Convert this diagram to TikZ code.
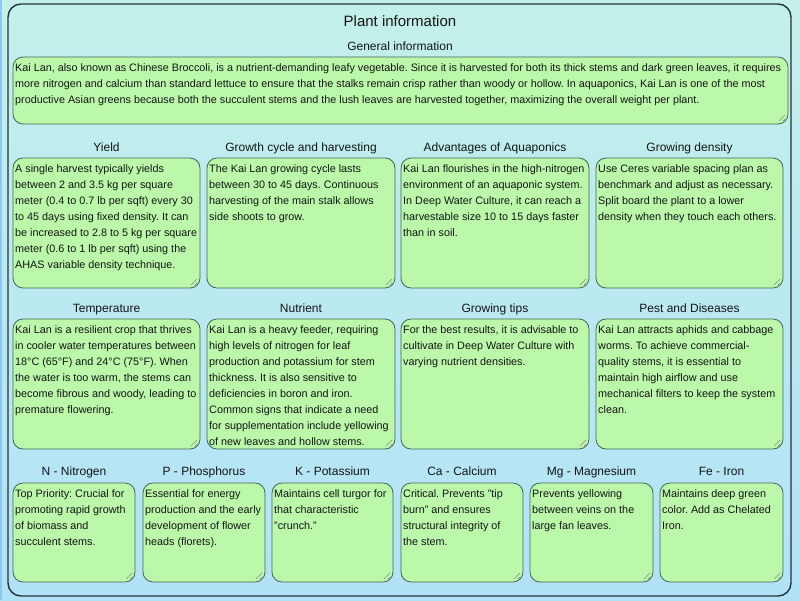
\documentclass[tikz,border=0pt]{standalone}
\usepackage{fontspec}
\setmainfont{Liberation Sans}
\frenchspacing
\definecolor{bgtop}{RGB}{196,240,234}
\definecolor{bgbot}{RGB}{178,226,248}
\definecolor{boxfill}{RGB}{187,248,170}
\definecolor{boxline}{RGB}{70,100,88}
\definecolor{framec}{RGB}{38,50,58}
\definecolor{txtc}{RGB}{20,20,20}
\definecolor{edgeblue}{RGB}{140,200,240}
\tikzset{
  ibx/.style={draw=boxline, fill=boxfill, line width=0.8pt, rounded corners=10pt, inner sep=0pt, outer sep=0pt},
  txt/.style={inner sep=0pt, align=left, text=txtc, font=\fontsize{10.8}{16}\selectfont\frenchspacing},
  hdr/.style={inner sep=0pt, anchor=base, text=txtc, font=\fontsize{12}{14}\selectfont},
  ttl/.style={inner sep=0pt, anchor=base, text=txtc, font=\fontsize{15}{18}\selectfont},
  grip/.style={draw=black!45, line width=0.5pt},
}
\newcommand{\ibox}[6]{%
  \node[ibx, anchor=north west, minimum width={(#4-#2)*1pt}, minimum height={(#5-#3)*1pt}] (#1) at (#2,#3) {};
  \node[txt, anchor=north west] (#1-t) at ([shift={(2,6)}]#1.north west) {#6};
  \draw[grip] ([shift={(-3,-9)}]#1.south east) -- ([shift={(-9,-3)}]#1.south east);
  \draw[grip] ([shift={(-3,-5)}]#1.south east) -- ([shift={(-5,-3)}]#1.south east);
}
\begin{document}
\begin{tikzpicture}[x=1pt,y=-1pt]
\useasboundingbox (0,0) rectangle (800,600);
\shade[top color=bgtop, bottom color=bgbot] (0,0) rectangle (800,600);
\draw[edgeblue, line width=2pt] (1,0) -- (1,600);
\draw[framec, line width=1.4pt, rounded corners=13pt] (8,4) rectangle (791,596);
\node[ttl] (title) at (400,26.5) {Plant information};
\node[hdr] (h-gen) at (400,50.5) {General information};
\ibox{gen}{13}{57}{788}{124}{Kai Lan, also known as Chinese Broccoli, is a nutrient-demanding leafy vegetable. Since it is harvested for both its thick stems and dark green leaves, it requires\\more nitrogen and calcium than standard lettuce to ensure that the stalks remain crisp rather than woody or hollow. In aquaponics, Kai Lan is one of the most\\productive Asian greens because both the succulent stems and the lush leaves are harvested together, maximizing the overall weight per plant.}
% row 1
\node[hdr] (h-yield) at (106.5,151.5) {Yield};
\node[hdr] (h-growth) at (301,151.5) {Growth cycle and harvesting};
\node[hdr] (h-adv) at (495,151.5) {Advantages of Aquaponics};
\node[hdr] (h-dens) at (689.5,151.5) {Growing density};
\ibox{yield}{13}{158}{200}{288}{A single harvest typically yields\\between 2 and 3.5 kg per square\\meter (0.4 to 0.7 lb per sqft) every 30\\to 45 days using fixed density. It can\\be increased to 2.8 to 5 kg per square\\meter (0.6 to 1 lb per sqft) using the\\AHAS variable density technique.}
\ibox{growth}{207}{158}{395}{288}{The Kai Lan growing cycle lasts\\between 30 to 45 days. Continuous\\harvesting of the main stalk allows\\side shoots to grow.}
\ibox{adv}{401}{158}{589}{288}{Kai Lan flourishes in the high-nitrogen\\environment of an aquaponic system.\\In Deep Water Culture, it can reach a\\harvestable size 10 to 15 days faster\\than in soil.}
\ibox{dens}{596}{158}{783}{288}{Use Ceres variable spacing plan as\\benchmark and adjust as necessary.\\Split board the plant to a lower\\density when they touch each others.}
% row 2
\node[hdr] (h-temp) at (106.5,312.5) {Temperature};
\node[hdr] (h-nut) at (301,312.5) {Nutrient};
\node[hdr] (h-tips) at (495,312.5) {Growing tips};
\node[hdr] (h-pest) at (689.5,312.5) {Pest and Diseases};
\ibox{temp}{13}{319}{200}{449}{Kai Lan is a resilient crop that thrives\\in cooler water temperatures between\\18°C (65°F) and 24°C (75°F). When\\the water is too warm, the stems can\\become fibrous and woody, leading to\\premature flowering.}
\ibox{nut}{207}{319}{395}{449}{Kai Lan is a heavy feeder, requiring\\high levels of nitrogen for leaf\\production and potassium for stem\\thickness. It is also sensitive to\\deficiencies in boron and iron.\\Common signs that indicate a need\\for supplementation include yellowing\\of new leaves and hollow stems.}
\ibox{tips}{401}{319}{589}{449}{For the best results, it is advisable to\\cultivate in Deep Water Culture with\\varying nutrient densities.}
\ibox{pest}{596}{319}{783}{449}{Kai Lan attracts aphids and cabbage\\worms. To achieve commercial-\\quality stems, it is essential to\\maintain high airflow and use\\mechanical filters to keep the system\\clean.}
% row 3
\node[hdr] (h-n) at (74,475.5) {N - Nitrogen};
\node[hdr] (h-p) at (204,475.5) {P - Phosphorus};
\node[hdr] (h-k) at (332.5,475.5) {K - Potassium};
\node[hdr] (h-ca) at (462,475.5) {Ca - Calcium};
\node[hdr] (h-mg) at (591.5,475.5) {Mg - Magnesium};
\node[hdr] (h-fe) at (721.5,475.5) {Fe - Iron};
\ibox{n}{13}{483}{135}{582}{Top Priority: Crucial for\\promoting rapid growth\\of biomass and\\succulent stems.}
\ibox{p}{143}{483}{265}{582}{Essential for energy\\production and the early\\development of flower\\heads (florets).}
\ibox{k}{272}{483}{393}{582}{Maintains cell turgor for\\that characteristic\\"crunch."}
\ibox{ca}{401}{483}{523}{582}{Critical. Prevents "tip\\burn" and ensures\\structural integrity of\\the stem.}
\ibox{mg}{530}{483}{653}{582}{Prevents yellowing\\between veins on the\\large fan leaves.}
\ibox{fe}{660}{483}{783}{582}{Maintains deep green\\color. Add as Chelated\\Iron.}
\end{tikzpicture}
\end{document}
